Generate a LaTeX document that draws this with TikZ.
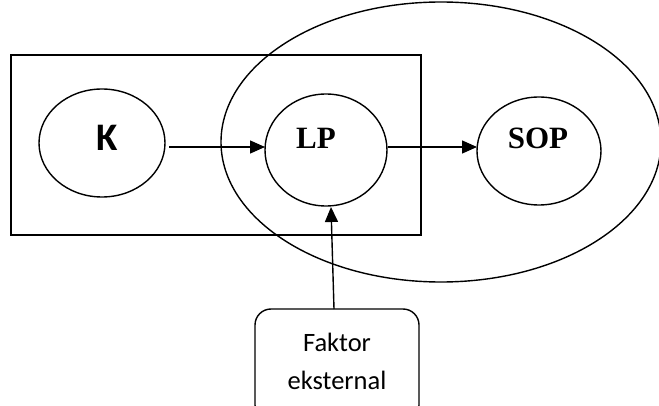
\documentclass[tikz,border=0pt]{standalone}
\usepackage{fontspec}
\setmainfont{Liberation Serif}
\newfontfamily\calib{Carlito}
\usetikzlibrary{arrows.meta,shapes.geometric}
\begin{document}
\begin{tikzpicture}[x=1pt,y=-1pt,
  every node/.style={inner sep=0pt, outer sep=0pt},
  oval/.style={ellipse, draw, line width=1.4pt},
  arr/.style={line width=1.4pt, -{Triangle[length=15pt,width=13pt]}},
  serifbold/.style={font=\fontsize{31}{36}\selectfont\bfseries},
  sansbold/.style={font=\calib\fontsize{39}{44}\selectfont\bfseries},
  sanstext/.style={font=\calib\fontsize{26.5}{38}\selectfont, align=center}]
\clip (0,0) rectangle (659,406);
\fill[white] (0,0) rectangle (659,406);
% outer big ellipse
\node[oval, minimum width=440, minimum height=280] (ring) at (441,142) {};
% rectangle
\node[draw, line width=1.6pt, minimum width=410, minimum height=180] (frame) at (216,145) {};
% inner ellipses
\node[oval, minimum width=126, minimum height=108] (K) at (102,143) {};
\node[oval, minimum width=122, minimum height=112] (LP) at (326,150) {};
\node[oval, minimum width=124, minimum height=108] (SOP) at (539,151) {};
\node[sansbold] (Kt) at (107,138) {K};
\node[serifbold] (LPt) at (316,138) {LP};
\node[serifbold] (SOPt) at (538,138) {SOP};
% external factor box
\node[draw, line width=1.4pt, rounded corners=16pt, minimum width=164, minimum height=112] (F) at (337,365) {};
\node[sanstext] (Ft) at (337,361) {Faktor\\eksternal};
% arrows
\draw[arr] ([shift={(4,4)}]K.east) -- ([shift={(0,-3)}]LP.west);
\draw[arr] ([shift={(1,-3)}]LP.east) -- ([shift={(0,-4)}]SOP.west);
\draw[arr] ([shift={(-3,0)}]F.north) -- ([shift={(5,1)}]LP.south);
\end{tikzpicture}
\end{document}
